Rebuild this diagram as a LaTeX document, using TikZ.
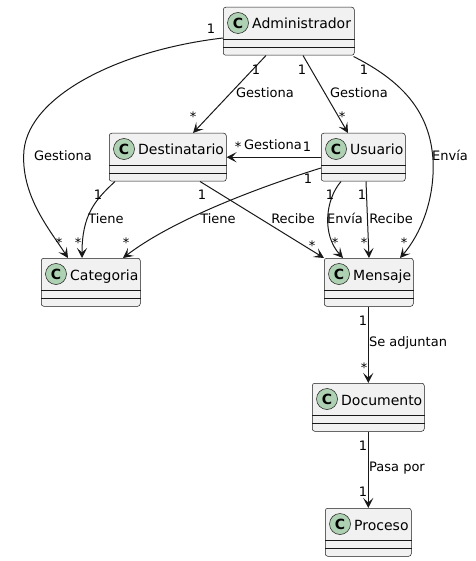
\documentclass[tikz,border=0pt]{standalone}
\usepackage{fontspec}
\setmainfont{DejaVu Sans}
\usetikzlibrary{arrows.meta,calc}
\definecolor{boxfill}{HTML}{F1F1F1}
\definecolor{boxline}{HTML}{181818}
\definecolor{cfill}{HTML}{ADD1B2}
\newcommand\umlclass[5]{%
  \node[cls, minimum width=#4pt] (#1) at (#2,#3) {};
  \draw[boxline, line width=0.5pt] ([yshift=-32pt]#1.north west) -- ([yshift=-32pt]#1.north east);
  \draw[boxline, line width=0.5pt] ([yshift=-40pt]#1.north west) -- ([yshift=-40pt]#1.north east);
  \node[ccircle] (#1c) at ([xshift=15pt,yshift=-16pt]#1.north west) {C};
  \node[cname] (#1t) at ([xshift=29pt,yshift=-22pt]#1.north west) {#5};
}
\begin{document}
\begin{tikzpicture}[x=1pt,y=-1pt,
  cls/.style={draw=boxline, fill=boxfill, rounded corners=2.5pt, line width=0.5pt, minimum height=48pt, inner sep=0pt, anchor=north west},
  ccircle/.style={circle, fill=cfill, draw=boxline, line width=0.5pt, minimum size=21pt, inner sep=0pt, font=\bfseries\fontsize{14}{14}\selectfont},
  cname/.style={anchor=base west, inner sep=0pt, font=\fontsize{14}{14}\selectfont},
  lbl/.style={font=\fontsize{13}{13}\selectfont, inner sep=0pt, anchor=base},
  conn/.style={draw=boxline, line width=1pt, -{Stealth[length=10pt,width=10pt,inset=4.5pt]}},
]
\useasboundingbox (0,0) rectangle (475,561);

\umlclass{adm}{223}{7}{131}{Administrador}
\umlclass{dest}{109}{133}{117}{Destinatario}
\umlclass{usu}{321}{133}{84}{Usuario}
\umlclass{cat}{41}{258}{99}{Categoria}
\umlclass{men}{324}{258}{89}{Mensaje}
\umlclass{doc}{312}{383}{112}{Documento}
\umlclass{pro}{325}{508}{86}{Proceso}

% Administrador -> Categoria
\draw[conn] ($(adm.north west)+(0,31)$) .. controls (120,50) and (30,95) .. (24,150)
   .. controls (20,195) and (50,230) .. ($(cat.north west)+(27,0)$);
\node[lbl] (l1a) at (211,34) {1};
\node[lbl] (l1b) at (63,161) {Gestiona};
\node[lbl] (l1c) at (59,247) {*};

% Administrador -> Destinatario
\draw[conn] ($(adm.south west)+(43,0)$) -- ($(dest.north west)+(84,0)$);
\node[lbl] (l2a) at (256,75) {1};
\node[lbl] (l2b) at (265,98) {Gestiona};
\node[lbl] (l2c) at (193,122) {*};

% Administrador -> Usuario
\draw[conn] ($(adm.south west)+(80,0)$) -- ($(usu.north west)+(27,0)$);
\node[lbl] (l3a) at (302,75) {1};
\node[lbl] (l3b) at (359,98) {Gestiona};
\node[lbl] (l3c) at (342,122) {*};

% Administrador -> Mensaje
\draw[conn] ($(adm.south east)+(-1,1)$) .. controls (400,80) and (430,110) .. (433,160)
   .. controls (435,200) and (420,235) .. ($(men.north west)+(76,0)$);
\node[lbl] (l4a) at (364,75) {1};
\node[lbl] (l4b) at (450,161) {Envía};
\node[lbl] (l4c) at (404,247) {*};

% Usuario -> Destinatario
\draw[conn] (usu.west) -- (dest.east);
\node[lbl] (l5a) at (307,152) {1};
\node[lbl] (l5b) at (273,150) {Gestiona};
\node[lbl] (l5c) at (238,152) {*};

% Destinatario -> Categoria
\draw[conn] ($(dest.south west)+(6,0)$) .. controls (95,200) and (82,215) .. ($(cat.north west)+(41,0)$);
\node[lbl] (l6a) at (98,200) {1};
\node[lbl] (l6b) at (106,223) {Tiene};
\node[lbl] (l6c) at (78,247) {*};

% Usuario -> Categoria
\draw[conn] ($(usu.north west)+(0,35)$) .. controls (250,190) and (170,222) .. ($(cat.north west)+(82,0)$);
\node[lbl] (l7a) at (308,183) {1};
\node[lbl] (l7b) at (218,223) {Tiene};
\node[lbl] (l7c) at (126,247) {*};

% Destinatario -> Mensaje
\draw[conn] ($(dest.south west)+(91,0)$) -- (men.north west);
\node[lbl] (l8a) at (202,200) {1};
\node[lbl] (l8b) at (293,223) {Recibe};
\node[lbl] (l8c) at (312,250) {*};

% Usuario -> Mensaje (Envía)
\draw[conn] ($(usu.south west)+(20,0)$) .. controls (325,200) and (322,235) .. ($(men.north west)+(19,0)$);
\node[lbl] (l9a) at (330,200) {1};
\node[lbl] (l9b) at (345,223) {Envía};
\node[lbl] (l9c) at (335,247) {*};

% Usuario -> Mensaje (Recibe)
\draw[conn] ($(usu.south west)+(45,0)$) -- ($(men.north west)+(45,0)$);
\node[lbl] (l10a) at (362,200) {1};
\node[lbl] (l10b) at (391,223) {Recibe};
\node[lbl] (l10c) at (364,247) {*};

% Mensaje -> Documento
\draw[conn] (doc.north |- men.south) -- (doc.north);
\node[lbl] (l11a) at (363,325) {1};
\node[lbl] (l11b) at (408,346) {Se adjuntan};
\node[lbl] (l11c) at (364,372) {*};

% Documento -> Proceso
\draw[conn] (doc.south) -- (doc.south |- pro.north);
\node[lbl] (l12a) at (363,450) {1};
\node[lbl] (l12b) at (397,471) {Pasa por};
\node[lbl] (l12c) at (363,496) {1};
\end{tikzpicture}
\end{document}
